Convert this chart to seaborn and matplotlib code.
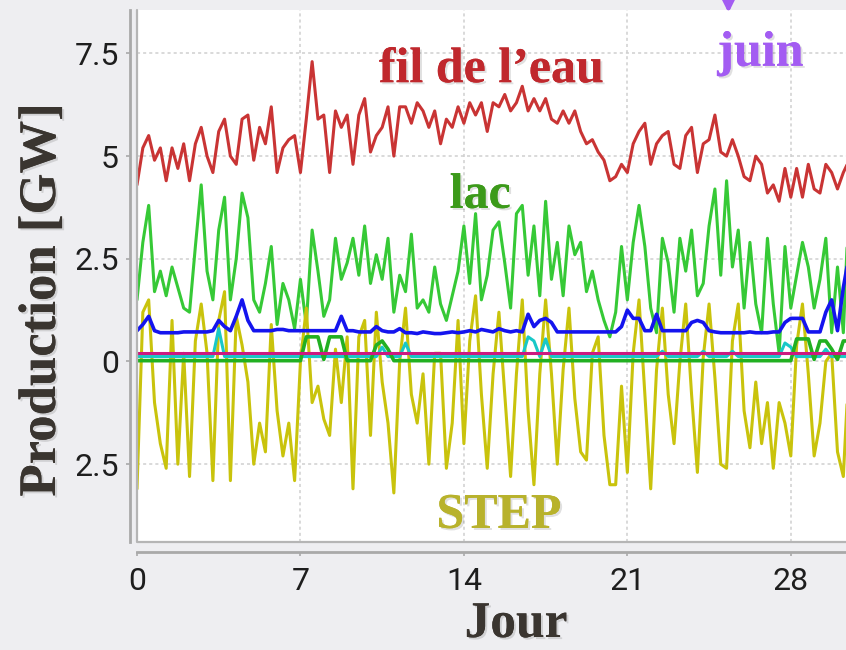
import numpy as np
import pandas as pd
import matplotlib
matplotlib.use("Agg")
import matplotlib.pyplot as plt
import matplotlib.patheffects as pe
from matplotlib.lines import Line2D
import seaborn as sns

# ---------------- data (6-hour steps) ----------------
days = [i * 0.25 for i in range(123)]  # 0 .. 30.5 day positions

fil_de_leau = [
    4.3, 5.2, 5.5, 4.9,  5.2, 4.4, 5.2, 4.7,  5.3, 4.4, 5.3, 5.7,
    5.0, 4.6, 5.6, 5.9,  5.0, 4.8, 5.9, 6.0,  4.9, 5.7, 5.3, 6.2,
    4.6, 5.2, 5.4, 5.5,  4.6, 5.9, 7.3, 5.9,  6.0, 4.6, 6.1, 5.7,
    6.0, 4.8, 6.0, 6.4,  5.1, 5.5, 5.7, 6.2,  5.0, 6.2, 6.2, 5.8,
    6.3, 6.1, 5.7, 6.1,  5.3, 5.9, 5.7, 6.2,  5.8, 6.3, 6.0, 6.3,
    5.6, 6.3, 6.2, 6.5,  6.1, 6.3, 6.7, 6.1,  6.4, 6.1, 6.4, 5.9,
    5.8, 6.1, 5.8, 6.1,  5.6, 5.3, 5.4, 5.1,  4.9, 4.4, 4.5, 4.8,
    4.6, 5.3, 5.6, 5.8,  4.8, 5.3, 5.5, 5.6,  4.8, 4.7, 5.5, 5.7,
    4.6, 5.3, 5.4, 6.0,  5.1, 5.0, 5.4, 5.0,  4.5, 4.4, 5.0, 4.8,
    4.1, 4.3, 3.9, 4.7,  4.0, 4.7, 4.0, 4.8,  4.2, 4.1, 4.8, 4.6,
    4.2, 4.6, 4.9,
]

lac = [
    1.5, 2.9, 3.8, 1.7,  2.2, 1.6, 2.3, 1.8,  1.3, 1.2, 2.8, 4.3,
    2.2, 1.5, 3.2, 4.0,  1.5, 2.5, 4.1, 3.5,  1.5, 1.2, 1.9, 2.8,
    0.9, 1.9, 1.5, 0.8,  2.0, 0.9, 3.2, 2.2,  1.1, 1.5, 3.0, 2.0,
    2.4, 3.0, 2.1, 3.3,  1.9, 2.6, 2.0, 3.0,  1.2, 2.1, 1.7, 3.1,
    1.3, 1.5, 1.2, 2.3,  1.4, 1.0, 1.6, 2.2,  3.3, 1.9, 3.6, 1.5,
    2.1, 3.2, 3.4, 2.4,  1.3, 3.6, 3.8, 2.1,  3.3, 1.6, 3.9, 2.0,
    2.9, 1.6, 3.3, 2.6,  2.9, 1.7, 2.2, 1.5,  1.0, 0.6, 1.2, 2.8,
    1.5, 2.9, 3.8, 2.8,  1.3, 0.7, 3.0, 2.4,  1.2, 3.0, 2.2, 3.2,
    1.6, 1.9, 3.3, 4.2,  2.1, 4.4, 2.3, 3.2,  1.3, 2.9, 1.4, 0.7,
    3.0, 1.4, 0.2, 2.8,  1.3, 2.1, 2.9, 2.3,  1.3, 2.0, 3.0, 0.7,
    2.3, 0.7, 4.0,
]

step = [
    -3.1, 1.2, 1.5, -1.0,  -2.0, -2.6, 1.0, -2.5,  0.2, -2.8, 0.5, 1.4,
    0.2, -2.9, 1.0, 1.7,   -2.9, 1.1, 0.4, -0.5,   -2.5, -1.5, -2.2, 0.9,
    -1.2, -2.3, -1.5, -2.9, 0.0, 1.3, -1.0, -0.6,  -1.4, -1.8, 0.3, -1.0,
    0.6, -3.1, 0.6, 1.0,   -1.8, 1.2, -0.5, -1.5,  -3.2, 0.0, 1.3, -0.8,
    -1.5, -0.3, -2.5, 0.2,  0.2, -2.6, -1.5, 1.0,  -2.0, 0.5, 1.6, -0.8,
    -2.6, -0.3, 1.2, -0.8,  -2.8, -0.3, 1.5, -1.2, -3.0, -0.3, 1.5, -0.3,
    -2.5, -0.2, 1.3, -0.9,  -2.2, -2.4, 0.2, 0.6,  -1.8, -3.0, -3.0, -0.6,
    -2.7, 0.2, 1.5, -0.8,   -3.1, -0.2, 1.3, -0.8, -2.0, 0.0, 1.4, -0.8,
    -2.7, 0.1, 1.4, -0.4,   -2.5, -2.6, 0.5, 1.4,  -1.2, -2.1, -0.5, -2.0,
    -1.0, -2.6, -1.0, -1.5, -2.3, 0.4, 1.4, -0.3,  -2.3, -1.5, 0.0, 0.2,
    -2.2, -2.8, 0.0,
]

blue_series = [
    0.75, 0.9, 1.1, 0.75,  0.7, 0.7, 0.7, 0.7,  0.72, 0.72, 0.72, 0.72,
    0.72, 0.75, 1.0, 0.85,  0.75, 1.1, 1.5, 1.0,  0.75, 0.75, 0.75, 0.75,
    0.78, 0.78, 0.75, 0.75,  0.75, 0.75, 0.75, 0.75,  0.75, 0.75, 0.75, 1.1,
    0.75, 0.75, 0.72, 0.72,  0.72, 0.85, 0.75, 0.72,  0.72, 0.8, 0.7, 0.7,
    0.68, 0.72, 0.7, 0.68,  0.68, 0.7, 0.72, 0.7,  0.72, 0.75, 0.72, 0.78,
    0.75, 0.72, 0.8, 0.75,  0.72, 0.75, 0.72, 1.15,  0.85, 1.0, 1.05, 0.95,
    0.72, 0.72, 0.72, 0.72,  0.72, 0.72, 0.72, 0.72,  0.72, 0.72, 0.72, 0.85,
    1.25, 1.05, 1.05, 0.75,  0.75, 1.15, 0.75, 0.75,  0.75, 0.75, 0.75, 0.95,
    1.0, 0.95, 0.75, 0.72,  0.7, 0.7, 0.7, 0.7,  0.7, 0.72, 0.7, 0.7,
    0.7, 0.72, 0.72, 0.95,  1.05, 1.05, 1.05, 0.72,  0.72, 0.72, 1.2, 1.5,
    0.75, 1.8, 2.6,
]

cyan_series = [
    0.12, 0.12, 0.12, 0.12,  0.12, 0.12, 0.12, 0.12,  0.12, 0.12, 0.12, 0.12,
    0.12, 0.12, 0.8, 0.12,  0.12, 0.12, 0.12, 0.12,  0.12, 0.12, 0.12, 0.12,
    0.12, 0.12, 0.12, 0.12,  0.12, 0.12, 0.12, 0.12,  0.12, 0.12, 0.12, 0.12,
    0.12, 0.12, 0.12, 0.12,  0.12, 0.12, 0.35, 0.12,  0.12, 0.12, 0.45, 0.12,
    0.12, 0.12, 0.12, 0.12,  0.12, 0.12, 0.12, 0.12,  0.12, 0.12, 0.12, 0.12,
    0.12, 0.12, 0.12, 0.12,  0.12, 0.12, 0.12, 0.6,  0.5, 0.12, 0.55, 0.12,
    0.12, 0.12, 0.12, 0.12,  0.12, 0.12, 0.12, 0.12,  0.12, 0.12, 0.12, 0.12,
    0.12, 0.12, 0.12, 0.12,  0.12, 0.12, 0.25, 0.12,  0.12, 0.12, 0.12, 0.12,
    0.12, 0.25, 0.12, 0.12,  0.12, 0.12, 0.25, 0.12,  0.12, 0.12, 0.12, 0.12,
    0.12, 0.12, 0.12, 0.45,  0.35, 0.12, 0.12, 0.12,  0.12, 0.12, 0.3, 0.12,
    0.12, 0.12, 0.12,
]

green_step = [
    0.02, 0.02, 0.02, 0.02,  0.02, 0.02, 0.02, 0.02,  0.02, 0.02, 0.02, 0.02,
    0.02, 0.02, 0.02, 0.02,  0.02, 0.02, 0.02, 0.02,  0.02, 0.02, 0.02, 0.02,
    0.02, 0.02, 0.02, 0.02,  0.02, 0.6, 0.6, 0.6,  0.05, 0.6, 0.6, 0.6,
    0.02, 0.02, 0.02, 0.02,  0.02, 0.4, 0.5, 0.3,  0.02, 0.02, 0.02, 0.02,
    0.02, 0.02, 0.02, 0.02,  0.02, 0.02, 0.02, 0.02,  0.02, 0.02, 0.02, 0.02,
    0.02, 0.02, 0.02, 0.02,  0.02, 0.02, 0.02, 0.02,  0.02, 0.02, 0.02, 0.02,
    0.02, 0.02, 0.02, 0.02,  0.02, 0.02, 0.02, 0.02,  0.02, 0.02, 0.02, 0.02,
    0.02, 0.02, 0.02, 0.02,  0.02, 0.02, 0.02, 0.02,  0.02, 0.02, 0.02, 0.02,
    0.02, 0.02, 0.02, 0.02,  0.02, 0.02, 0.02, 0.02,  0.02, 0.02, 0.02, 0.02,
    0.02, 0.02, 0.02, 0.02,  0.02, 0.55, 0.55, 0.55,  0.05, 0.5, 0.5, 0.3,
    0.05, 0.5, 0.5,
]

magenta_days = [0, 30.5]
magenta_series = [0.2, 0.2]

y_ticks = [-2.5, 0, 2.5, 5, 7.5]
y_tick_labels = ["2.5", "0", "2.5", "5", "7.5"]
x_ticks = [0, 7, 14, 21, 28]
x_tick_labels = ["0", "7", "14", "21", "28"]

# ---------------- figure ----------------
sns.set_style("white")
W, H = 846, 650
fig = plt.figure(figsize=(W / 100, H / 100), dpi=100)
bg = "#eeeef1"
fig.patch.set_facecolor(bg)

ax = fig.add_axes([137 / W, (H - 541.7) / H, 31 * 23.35 / W, 531.7 / H])
ax.set_facecolor("white")

lines_spec = [
    (fil_de_leau, "#c93434", 2.2, 3),
    (lac, "#36c936", 2.2, 3),
    (step, "#c9c30c", 2.2, 4),
    (cyan_series, "#18c8c8", 2.2, 5),
    (green_step, "#22b022", 2.6, 6),
]
for vals, col, lw, z in lines_spec:
    sns.lineplot(x=days, y=vals, color=col, lw=lw, ax=ax, zorder=z)
sns.lineplot(x=magenta_days, y=magenta_series, color="#cc1a80", lw=2.2, ax=ax, zorder=7)
sns.lineplot(x=days, y=blue_series, color="#1414ee", lw=2.6, ax=ax, zorder=8)

ax.set_xlim(0, 31)
ax.set_ylim(-4.387, 8.557)

# grid
for yv in y_ticks:
    ax.axhline(yv, color="#cfcfcf", lw=1.1, ls=(0, (2, 2)), zorder=1)
for xv in x_ticks[1:]:
    ax.axvline(xv, color="#cfcfcf", lw=1.1, ls=(0, (2, 2)), zorder=1)

# spines
for s in ["top", "right"]:
    ax.spines[s].set_visible(False)
ax.spines["left"].set_position(("outward", 5))
ax.spines["bottom"].set_position(("outward", 7.5))
for s in ["left", "bottom"]:
    ax.spines[s].set_color("#a9a9a9")
    ax.spines[s].set_linewidth(2.0)
frame = Line2D([0, 0, 1.2], [1, 0, 0], transform=ax.transAxes, color="#b5b5b5",
               lw=1.6, clip_on=False, zorder=10)
ax.add_line(frame)

tick_font = ["Liberation Sans Narrow", "Roboto", "DejaVu Sans"]
ax.set_yticks(y_ticks)
ax.set_yticklabels(y_tick_labels, family=tick_font, fontsize=23, color="#1e1e1e")
ax.set_xticks(x_ticks)
ax.set_xticklabels(x_tick_labels, family=tick_font, fontsize=23, color="#1e1e1e")
ax.tick_params(axis="y", direction="out", length=3, width=1.2, color="#a9a9a9", pad=5, left=True)
ax.tick_params(axis="x", direction="out", length=3, width=1.2, color="#a9a9a9", pad=8, bottom=True)
ax.set_xlabel("")
ax.set_ylabel("")

shadow = [pe.withSimplePatchShadow(offset=(1.5, -1.5), shadow_rgbFace="#000000", alpha=0.12), pe.Normal()]
serif = ["Liberation Serif", "DejaVu Serif"]

fig.text(42 / W, 1 - 300 / H, "Production [GW]", rotation=90, ha="center", va="center",
         family=serif, fontweight="bold", fontsize=38, color="#3a3530", path_effects=shadow)
fig.text(516 / W, (H - 637) / H, "Jour", ha="center", va="baseline",
         family=serif, fontweight="bold", fontsize=37, color="#3a3530", path_effects=shadow)

ax.text(15.18, 6.8, "fil de l\u2019eau", ha="center", va="baseline", family=serif,
        fontweight="bold", fontsize=36, color="#c0282d", path_effects=shadow, zorder=12)
ax.text(14.7, 3.74, "lac", ha="center", va="baseline", family=serif,
        fontweight="bold", fontsize=36, color="#3c9a1a", path_effects=shadow, zorder=12)
ax.text(15.5, -4.05, "STEP", ha="center", va="baseline", family=serif,
        fontweight="bold", fontsize=36, color="#b8b22c", path_effects=shadow, zorder=12)
ax.text(26.7, 7.2, "juin", ha="center", va="baseline", family=serif,
        fontweight="bold", fontsize=36, color="#a35cf2", path_effects=shadow, zorder=12)
ax.annotate("", xy=(25.33, 8.42), xytext=(25.33, 9.2),
            arrowprops=dict(arrowstyle="-|>", color="#a35cf2", lw=3, mutation_scale=28),
            annotation_clip=False, zorder=12)

fig.savefig("out.png", dpi=100, facecolor=bg)
